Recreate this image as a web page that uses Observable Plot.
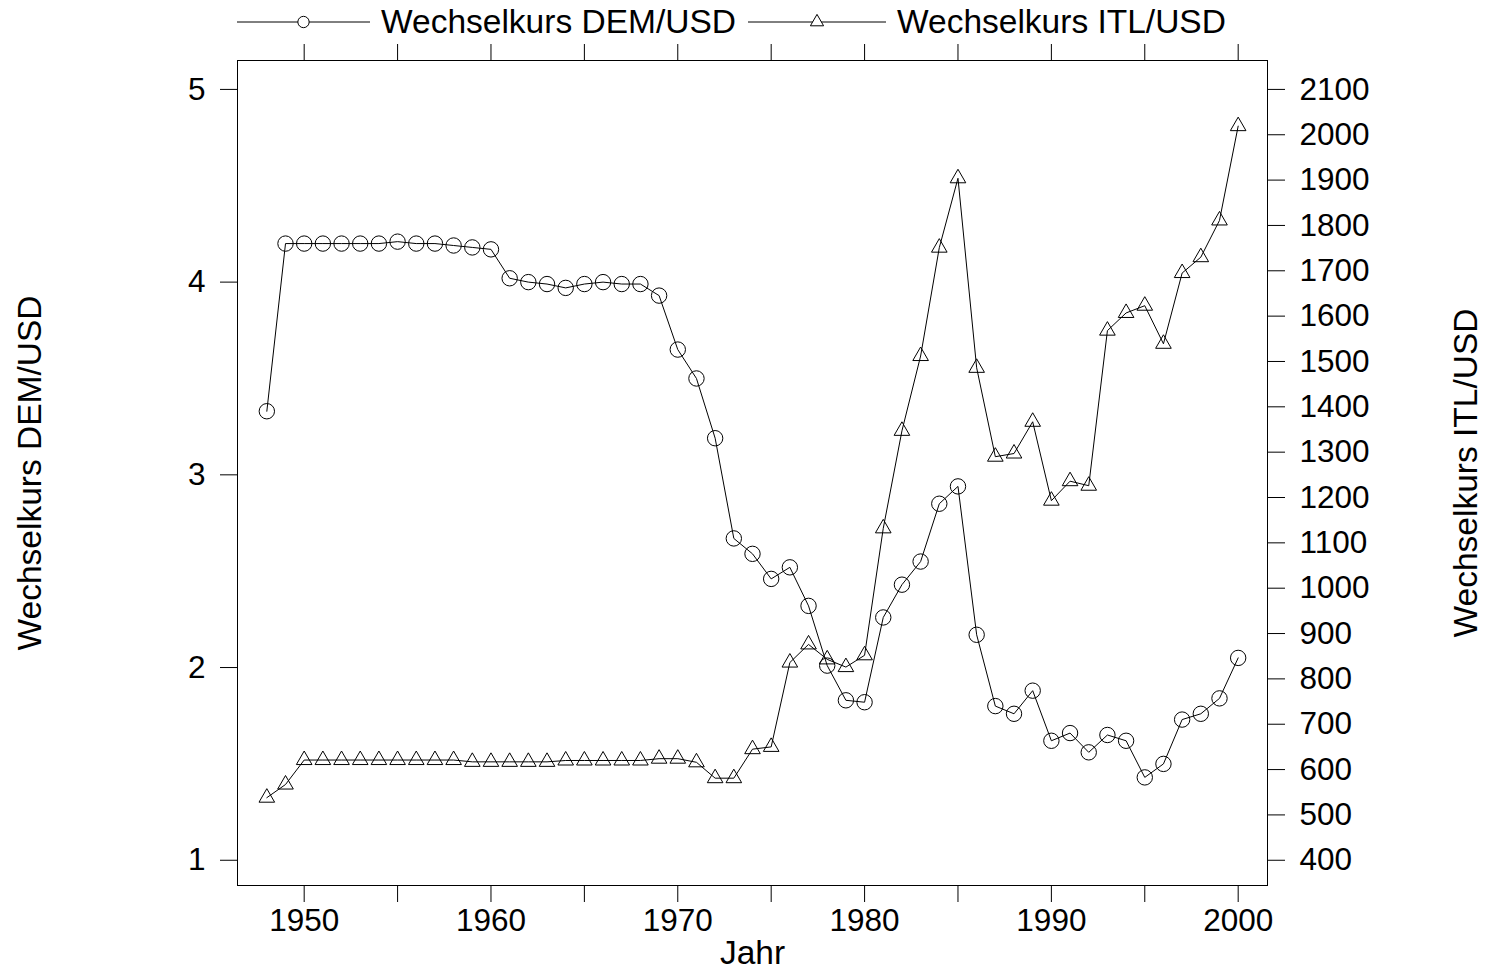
<!DOCTYPE html>
<html>
<head>
<meta charset="utf-8">
<script src="https://cdn.jsdelivr.net/npm/d3@7"></script>
<script src="https://cdn.jsdelivr.net/npm/@observablehq/plot@0.6"></script>
<style>
  html, body { margin: 0; padding: 0; background: #fff; }
  body { width: 1490px; height: 970px; overflow: hidden; font-family: "Liberation Sans", Arial, sans-serif; }
  #legend { position: relative; height: 40px; width: 1490px; }
  #legend .item { position: absolute; top: 0; height: 40px; }
  #legend .txt { position: absolute; top: 0; height: 40px; line-height: 44px; font-size: 33.5px; color: #000; white-space: nowrap; }
</style>
</head>
<body>
<div id="legend"></div>
<div id="chart"></div>
<script>
// ---- data ----
const years = [1948,1949,1950,1951,1952,1953,1954,1955,1956,1957,1958,1959,1960,1961,1962,1963,1964,1965,1966,1967,1968,1969,1970,1971,1972,1973,1974,1975,1976,1977,1978,1979,1980,1981,1982,1983,1984,1985,1986,1987,1988,1989,1990,1991,1992,1993,1994,1995,1996,1997,1998,1999,2000];
const demUsd = [3.33,4.20,4.20,4.20,4.20,4.20,4.20,4.21,4.20,4.20,4.19,4.18,4.17,4.02,4.00,3.99,3.97,3.99,4.00,3.99,3.99,3.93,3.65,3.50,3.19,2.67,2.59,2.46,2.52,2.32,2.01,1.83,1.82,2.26,2.43,2.55,2.85,2.94,2.17,1.80,1.76,1.88,1.62,1.66,1.56,1.65,1.62,1.43,1.50,1.73,1.76,1.84,2.05];
const itlUsd = [538,567,621,621,621,621,621,621,621,621,621,617,617,617,617,617,620,620,620,620,620,624,624,616,581,581,645,650,836,876,843,826,852,1132,1347,1512,1751,1904,1486,1290,1297,1367,1193,1236,1226,1568,1607,1623,1539,1695,1730,1811,2019];
const xTicks = [1950,1955,1960,1965,1970,1975,1980,1985,1990,1995,2000];
const demTicks = [1,2,3,4,5];
const itlTicks = [400,500,600,700,800,900,1000,1100,1200,1300,1400,1500,1600,1700,1800,1900,2000,2100];
const seriesNames = ["Wechselkurs DEM/USD", "Wechselkurs ITL/USD"];
const xLabel = "Jahr";

// ITL is drawn against the DEM (left) scale: ITL 400..2100 <-> DEM 1..5
const toDem = v => 1 + (v - 400) / 425;
const fromDem = d => 400 + (d - 1) * 425;

const rows = years.map((year, i) => ({year, dem: demUsd[i], itl: itlUsd[i]}));

const FONT = '"Liberation Sans", Arial, sans-serif';

// ---- legend (HTML above the SVG) ----
const legend = document.getElementById("legend");
function addItem(left, width, symbol, textLeft, label) {
  const ns = "http://www.w3.org/2000/svg";
  const svg = document.createElementNS(ns, "svg");
  svg.setAttribute("class", "item");
  svg.setAttribute("width", width);
  svg.setAttribute("height", 40);
  svg.style.left = left + "px";
  const cy = 22, cx = width / 2;
  const line = document.createElementNS(ns, "line");
  line.setAttribute("x1", 0); line.setAttribute("x2", width);
  line.setAttribute("y1", cy); line.setAttribute("y2", cy);
  line.setAttribute("stroke", "#000"); line.setAttribute("stroke-width", 1);
  svg.appendChild(line);
  const sym = document.createElementNS(ns, "path");
  sym.setAttribute("d", d3.symbol(symbol === "circle" ? d3.symbolCircle : d3.symbolTriangle, symbol === "circle" ? Math.PI * 32 : Math.PI * 24)());
  sym.setAttribute("transform", `translate(${cx},${cy})`);
  sym.setAttribute("fill", "#fff"); sym.setAttribute("stroke", "#000"); sym.setAttribute("stroke-width", 1);
  svg.appendChild(sym);
  legend.appendChild(svg);
  const t = document.createElement("div");
  t.className = "txt";
  t.style.left = textLeft + "px";
  t.textContent = label;
  legend.appendChild(t);
}
addItem(237, 133, "circle", 381, seriesNames[0]);
addItem(748, 138, "triangle", 897, seriesNames[1]);

// ---- chart ----
const chart = Plot.plot({
  width: 1490,
  height: 930,
  marginLeft: 237,
  marginRight: 223,
  marginTop: 20,
  marginBottom: 85,
  style: {fontFamily: FONT, fontSize: "31.5px", color: "#000", background: "#fff", overflow: "visible"},
  x: {domain: [1946.43, 2001.57]},
  y: {domain: [0.869, 5.150]},
  marks: [
    Plot.frame({stroke: "#000", strokeWidth: 1}),
    Plot.axisX(xTicks, {anchor: "bottom", tickSize: 17, tickPadding: 6, tickFormat: d => d % 10 === 0 ? String(d) : "", label: null, fontSize: 31.5, stroke: "#000"}),
    Plot.axisX(xTicks, {anchor: "top", tickSize: 17, tickFormat: () => "", label: null, stroke: "#000"}),
    Plot.axisY(demTicks, {anchor: "left", tickSize: 17, tickPadding: 15, tickFormat: d => String(d), label: null, fontSize: 31.5, stroke: "#000"}),
    Plot.axisY(itlTicks.map(toDem), {anchor: "right", tickSize: 17, tickPadding: 15, tickFormat: d => String(Math.round(fromDem(d))), label: null, fontSize: 31.5, stroke: "#000"}),
    Plot.line(rows, {x: "year", y: "dem", stroke: "#000", strokeWidth: 1}),
    Plot.dot(rows, {x: "year", y: "dem", symbol: "circle", r: 7.7, stroke: "#000", fill: "none", strokeWidth: 1}),
    Plot.line(rows, {x: "year", y: d => toDem(d.itl), stroke: "#000", strokeWidth: 1}),
    Plot.dot(rows, {x: "year", y: d => toDem(d.itl), symbol: "triangle", r: 5.8, stroke: "#000", fill: "none", strokeWidth: 1}),
    Plot.text([xLabel], {text: d => d, frameAnchor: "bottom", dy: 68, textAnchor: "middle", lineAnchor: "middle", fontSize: 33.5, fill: "#000"}),
    Plot.text([seriesNames[0]], {text: d => d, frameAnchor: "left", dx: -207, rotate: -90, textAnchor: "middle", lineAnchor: "middle", fontSize: 33.5, fill: "#000"}),
    Plot.text([seriesNames[1]], {text: d => d, frameAnchor: "right", dx: 199, rotate: -90, textAnchor: "middle", lineAnchor: "middle", fontSize: 33.5, fill: "#000"})
  ]
});
document.getElementById("chart").appendChild(chart);
</script>
</body>
</html>
